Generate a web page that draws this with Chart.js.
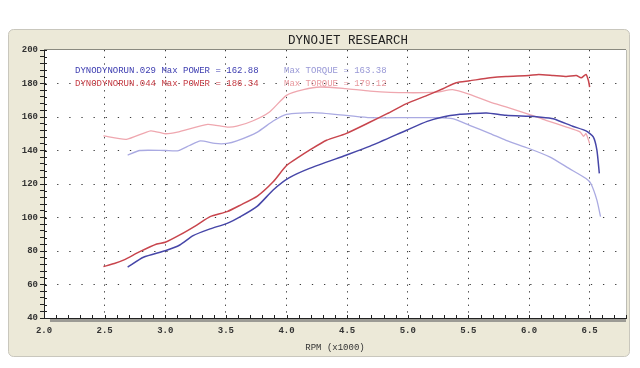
<!DOCTYPE html>
<html>
<head>
<meta charset="utf-8">
<script src="https://cdn.jsdelivr.net/npm/chart.js@4.4.0/dist/chart.umd.min.js"></script>
<style>
  html, body { margin: 0; padding: 0; background: #fff; }
  canvas { display: block; }
</style>
</head>
<body>
<canvas id="dyno" width="640" height="368"></canvas>
<script>
const chartTitle = 'DYNOJET RESEARCH';
const xTitle = 'RPM (x1000)';

const run029Name = 'DYNODYNORUN.029';
const run029MaxPower = '162.88';
const run029MaxTorque = '163.38';
const run044Name = 'DYNODYNORUN.044';
const run044MaxPower = '186.34';
const run044MaxTorque = '179.12';

// run 029 power (dark blue)
const power029Rpm = [2.69, 2.82, 3.00, 3.12, 3.23, 3.37, 3.51, 3.62, 3.76, 3.89, 4.02, 4.19, 4.49, 4.69, 4.99,
  5.16, 5.29, 5.43, 5.51, 5.65, 5.81, 6.00, 6.08, 6.20, 6.36, 6.47, 6.53, 6.56, 6.58];
const power029 = [70.4, 76.3, 80.2, 83.6, 89.2, 93.2, 96.5, 100.5, 106.8, 116.4, 123.6, 129.3, 137.2, 142.6, 152.1,
  157.4, 160.0, 161.6, 162.0, 162.4, 161.0, 160.4, 160.0, 159.0, 154.5, 151.7, 148.1, 140.2, 126.3];

// run 044 power (red)
const power044Rpm = [2.49, 2.58, 2.66, 2.79, 2.93, 3.00, 3.12, 3.26, 3.37, 3.51, 3.62, 3.76, 3.89, 4.00, 4.10,
  4.19, 4.33, 4.49, 4.69, 4.83, 4.99, 5.16, 5.29, 5.40, 5.51, 5.68, 5.81, 6.00, 6.08, 6.20, 6.31, 6.39, 6.43,
  6.47, 6.49, 6.50];
const power044 = [70.7, 72.5, 74.7, 79.6, 84.2, 85.2, 89.6, 95.5, 100.5, 103.5, 107.4, 112.8, 121.3, 131.0, 136.0,
  140.2, 146.1, 150.1, 157.0, 162.0, 168.0, 172.9, 176.9, 180.5, 181.6, 183.4, 184.2, 184.8, 185.4, 184.8, 184.2,
  184.8, 183.4, 185.4, 181.8, 177.9];

// run 029 torque (light blue)
const torque029Rpm = [2.69, 2.79, 3.00, 3.10, 3.20, 3.29, 3.41, 3.51, 3.59, 3.76, 3.89, 4.00, 4.22, 4.49, 4.69,
  4.99, 5.24, 5.37, 5.51, 5.68, 5.81, 6.00, 6.17, 6.33, 6.47, 6.51, 6.56, 6.59];
const torque029 = [137.2, 140.0, 140.0, 139.8, 143.0, 145.7, 144.2, 144.2, 145.7, 151.0, 157.6, 161.6, 162.6, 161.0,
  159.6, 159.6, 159.6, 159.0, 155.0, 150.1, 146.1, 141.2, 136.2, 129.3, 123.3, 120.3, 110.4, 100.5];

// run 044 torque (light red)
const torque044Rpm = [2.49, 2.68, 2.88, 3.00, 3.10, 3.35, 3.51, 3.59, 3.72, 3.86, 4.00, 4.14, 4.28, 4.49, 4.69,
  4.99, 5.24, 5.37, 5.51, 5.68, 5.81, 6.00, 6.14, 6.31, 6.42, 6.45, 6.47, 6.50];
const torque044 = [148.7, 146.7, 151.7, 150.0, 151.0, 155.6, 154.0, 154.5, 157.6, 163.0, 172.9, 176.3, 177.9, 176.9,
  175.5, 174.5, 174.9, 176.3, 173.5, 168.9, 166.0, 161.6, 158.0, 154.0, 151.1, 148.5, 150.1, 144.2];

function pts(xs, ys) {
  return xs.map((x, i) => ({ x: x, y: ys[i] }));
}

const MONO = "'Liberation Mono', 'Courier New', monospace";

function tenths(v) { return Math.round(v * 10); }

const panelPlugin = {
  id: 'panel',
  beforeDraw(chart) {
    const ctx = chart.ctx;
    const a = chart.chartArea;
    ctx.save();
    ctx.fillStyle = '#fff';
    ctx.fillRect(0, 0, chart.width, chart.height);
    // beige frame
    ctx.beginPath();
    ctx.roundRect(8.5, 29.5, 621, 327, 5);
    ctx.fillStyle = '#ece9d8';
    ctx.fill();
    ctx.strokeStyle = '#c9c7bd';
    ctx.lineWidth = 1;
    ctx.stroke();
    // plot area
    ctx.fillStyle = '#fff';
    ctx.fillRect(a.left, a.top, a.right - a.left, a.bottom - a.top);
    ctx.strokeStyle = '#8a8a80';
    ctx.beginPath();
    ctx.moveTo(a.left, a.top - 0.5);
    ctx.lineTo(a.right, a.top - 0.5);
    ctx.stroke();
    ctx.strokeStyle = '#bdbdb5';
    ctx.beginPath();
    ctx.moveTo(a.right + 0.5, a.top);
    ctx.lineTo(a.right + 0.5, a.bottom);
    ctx.stroke();
    // title
    ctx.fillStyle = '#222';
    ctx.font = '12.5px ' + MONO;
    ctx.textAlign = 'center';
    ctx.textBaseline = 'middle';
    ctx.fillText(chartTitle, 348, 41);
    ctx.restore();
  },
  beforeDatasetsDraw(chart) {
    const ctx = chart.ctx;
    const a = chart.chartArea;
    const xs = chart.scales.x;
    const ys = chart.scales.y;
    ctx.save();
    // x axis bar with shadow
    ctx.fillStyle = '#9c9b95';
    ctx.fillRect(a.left + 6, a.bottom + 1, a.right - a.left - 6, 3);
    ctx.strokeStyle = '#222';
    ctx.lineWidth = 1;
    ctx.beginPath();
    ctx.moveTo(a.left, a.bottom + 0.5);
    ctx.lineTo(a.right, a.bottom + 0.5);
    ctx.stroke();
    ctx.beginPath();
    xs.ticks.forEach(t => {
      const px = Math.round(xs.getPixelForValue(t.value)) + 0.5;
      ctx.moveTo(px, a.bottom - 3);
      ctx.lineTo(px, a.bottom + 1);
    });
    ys.ticks.forEach(t => {
      const py = Math.round(ys.getPixelForValue(t.value)) + 0.5;
      ctx.moveTo(a.left, py);
      ctx.lineTo(a.left + 3, py);
    });
    ctx.stroke();

    // legend text
    ctx.font = '9px ' + MONO;
    ctx.textAlign = 'left';
    ctx.textBaseline = 'middle';
    ctx.fillStyle = '#3c3cb0';
    ctx.fillText(run029Name + ' Max POWER = ' + run029MaxPower, 75, 71);
    ctx.fillStyle = '#9898d6';
    ctx.fillText('Max TORQUE = ' + run029MaxTorque, 284, 71);
    ctx.fillStyle = '#c63c44';
    ctx.fillText(run044Name + ' Max POWER = ' + run044MaxPower, 75, 84);
    ctx.fillStyle = '#e8999f';
    ctx.fillText('Max TORQUE = ' + run044MaxTorque, 284, 84);
    ctx.restore();
  }
};

new Chart(document.getElementById('dyno'), {
  type: 'line',
  data: {
    datasets: [
      { label: 'Power 029', data: pts(power029Rpm, power029), borderColor: '#4646a8', borderWidth: 1.5 },
      { label: 'Power 044', data: pts(power044Rpm, power044), borderColor: '#c8454d', borderWidth: 1.5 },
      { label: 'Torque 029', data: pts(torque029Rpm, torque029), borderColor: '#aaaae2', borderWidth: 1.3 },
      { label: 'Torque 044', data: pts(torque044Rpm, torque044), borderColor: '#efa7af', borderWidth: 1.3 }
    ]
  },
  options: {
    responsive: false,
    animation: false,
    parsing: true,
    layout: { padding: { left: 10, right: 14, top: 50, bottom: 10 } },
    elements: {
      point: { radius: 0 },
      line: { tension: 0.2, fill: false }
    },
    plugins: {
      legend: { display: false },
      title: { display: false },
      tooltip: { enabled: false }
    },
    scales: {
      x: {
        type: 'linear',
        min: 2,
        max: 6.8,
        afterFit: s => { s.height = 40; },
        ticks: {
          stepSize: 0.1,
          autoSkip: false,
          maxRotation: 0,
          includeBounds: false,
          padding: 7,
          color: '#333',
          font: { family: MONO, size: 9, weight: 'bold' },
          callback: v => (tenths(v) % 5 === 0 ? (tenths(v) / 10).toFixed(1) : '')
        },
        grid: {
          drawTicks: false,
          lineWidth: 1,
          color: c => (c.tick && tenths(c.tick.value) % 5 === 0 && tenths(c.tick.value) > 20) ? '#3c3c3c' : 'rgba(0,0,0,0)'
        },
        border: { display: false, dash: [1.3, 5.4] },
        title: {
          display: true,
          text: xTitle,
          color: '#333',
          font: { family: MONO, size: 9 },
          padding: { top: 0, bottom: 5 }
        }
      },
      y: {
        min: 40,
        max: 200,
        afterFit: s => { s.width = 34; },
        ticks: {
          stepSize: 4,
          autoSkip: false,
          padding: 2,
          color: '#333',
          font: { family: MONO, size: 9, weight: 'bold' },
          callback: v => (v % 20 === 0 ? String(v) : '')
        },
        grid: {
          lineWidth: 1,
          tickLength: 4,
          tickColor: '#222',
          color: c => (c.tick && c.tick.value % 20 === 0 && c.tick.value > 40 && c.tick.value < 200) ? '#3c3c3c' : 'rgba(0,0,0,0)'
        },
        border: { display: true, color: '#222', width: 1, dash: [1.3, 10.83] }
      }
    }
  },
  plugins: [panelPlugin]
});
</script>
</body>
</html>
